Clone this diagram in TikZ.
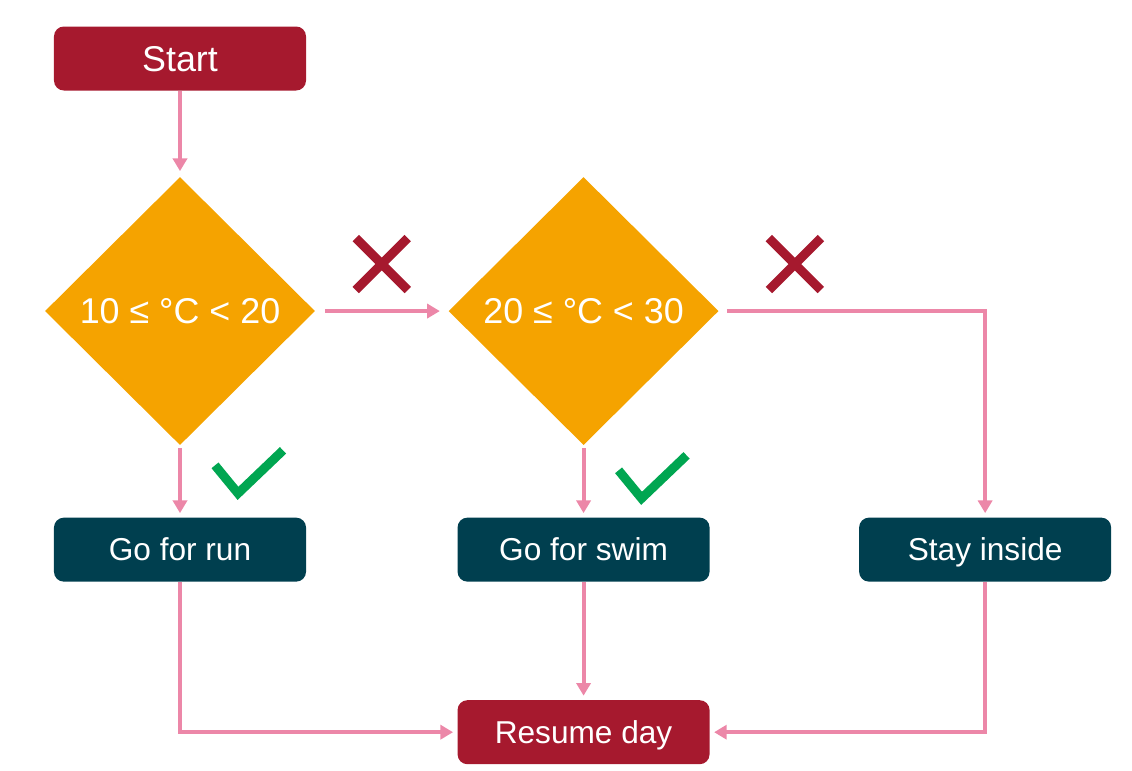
\documentclass[tikz,border=0pt]{standalone}
\usepackage{fontspec}
\setmainfont{Liberation Sans}
\usetikzlibrary{shapes.geometric,positioning,calc,arrows.meta}

\definecolor{crimson}{HTML}{A6192E}
\definecolor{amber}{HTML}{F5A300}
\definecolor{petrol}{HTML}{003F4F}
\definecolor{rosy}{HTML}{EC87A8}
\definecolor{leaf}{HTML}{00A651}

\begin{document}
\begin{tikzpicture}[font=\fontsize{22.5}{27}\selectfont]

        \def\d{.5cm}

        % Box, diamond and connector looks
        \tikzset{
            endbox/.style={rectangle, rounded corners=7pt, fill=crimson,
                text=white, minimum width=6.3cm, minimum height=1.6cm,
                text height=18pt, text depth=2pt},
            actbox/.style={endbox, fill=petrol},
            bigtext/.style={font=\fontsize{25.5}{30}\selectfont},
            decision/.style={diamond, fill=amber, text=white, inner sep=0pt,
                minimum width=6.75cm, minimum height=6.7cm, bigtext},
            flow/.style={draw=rosy, line width=2.8pt,
                -{Triangle[length=9pt,width=10pt]}},
            nomark/.pic={\draw[crimson, line width=6.4pt]
                (-.65,-.65) -- (.65,.65) (-.65,.65) -- (.65,-.65);},
            yesmark/.pic={\draw[leaf, line width=6.4pt]
                (-.85,.175) -- (-.275,-.525) -- (.85,.55);}
        }

        \useasboundingbox (-4.5,1.4625) rectangle (23.8,-17.7875);

        \node[endbox, bigtext, text height=19pt, text depth=1pt]
            (Start) at (0, 0) {Start};
        \node[decision, below=2.15cm of Start] (D1) {10 ≤ °C < 20};
        \node[decision, right=3.325cm of D1] (D2) {20 ≤ °C < 30};
        \node[actbox, below=1.8cm of D1] (Run) {Go for run};
        \node[actbox, below=1.8cm of D2] (Swim) {Go for swim};
        \node[actbox, right=3.725cm of Swim] (Stay) {Stay inside};
        \node[endbox, below=2.95cm of Swim] (Resume) {Resume day};

        \coordinate (C1) at ($(D1.east)!.5!(D2.west)+(0,1.175)$);
        \coordinate (C2) at ($(D2.east)+(1.9,1.175)$);
        \coordinate (K1) at ($(Run.north)+(1.725,1.125)$);
        \coordinate (K2) at ($(Swim.north)+(1.725,1.0)$);

        \begin{scope}[flow]
            \draw[shorten >=4pt] (Start) -- (D1);
            \draw[shorten <=7pt, shorten >=6pt] (D1) -- (D2);
            \draw[shorten <=2pt, shorten >=3pt] (D1) -- (Run);
            \draw[shorten <=2pt, shorten >=3pt] (D2) -- (Swim);
            \draw[shorten <=6pt, shorten >=3pt]
                (D2.east) -| (Stay.north);
            \draw[shorten >=3pt] (Run.south) |- (Resume.west);
            \draw[shorten >=3pt] (Swim) -- (Resume);
            \draw[shorten >=3pt] (Stay.south) |- (Resume.east);
        \end{scope}

        \pic at (C1) {nomark};
        \pic at (C2) {nomark};
        \pic at (K1) {yesmark};
        \pic at (K2) {yesmark};

\end{tikzpicture}
\end{document}
